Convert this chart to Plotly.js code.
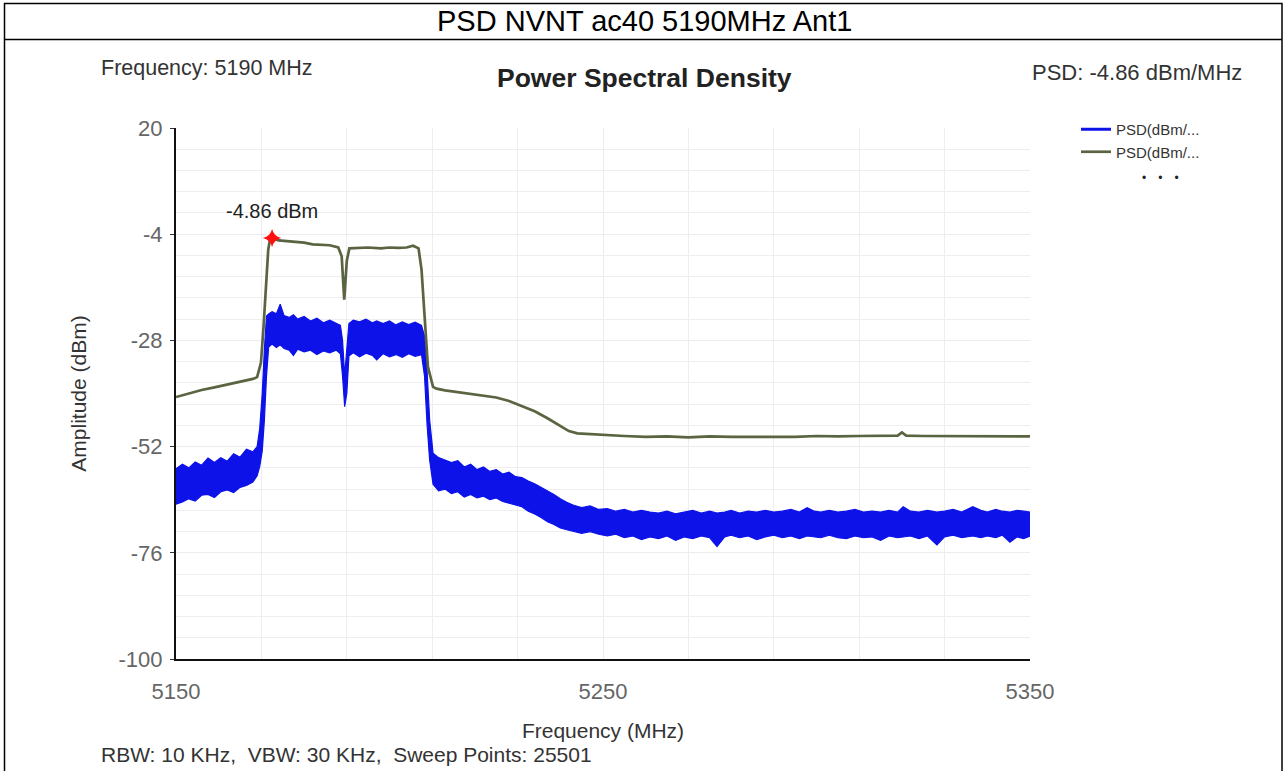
<!DOCTYPE html>
<html>
<head>
<meta charset="utf-8">
<script src="https://cdn.plot.ly/plotly-3.0.1.min.js"></script>
<style>
html,body{margin:0;padding:0;background:#fff;}
#chart{width:1285px;height:771px;}
</style>
</head>
<body>
<div id="chart"></div>
<script>
// ---------------- DATA ----------------
const chartTitle = 'PSD NVNT ac40 5190MHz Ant1';
const plotTitle = 'Power Spectral Density';
const infoFreq = 'Frequency: 5190 MHz';
const infoPsd = 'PSD: -4.86 dBm/MHz';
const infoSweep = 'RBW: 10 KHz,  VBW: 30 KHz,  Sweep Points: 25501';
const seriesNames = ['PSD(dBm/...', 'PSD(dBm/...'];
const xTickVals = [5150, 5250, 5350];
const yTickVals = [-100, -76, -52, -28, -4, 20];

const peakFreq = 5172.5;
const peakPsd = -4.86;
const peakLabel = '-4.86 dBm';

// Blue trace (noisy PSD) drawn as band between upper and lower envelope
const freqB = [5150.0,5151.5,5153.0,5154.5,5156.0,5157.5,5159.0,5160.5,5162.0,5163.5,5165.0,5166.5,5168.0,5169.0,5169.6,5170.2,5170.7,5171.2,5171.7,5172.5,5173.5,5174.4,5175.3,5176.5,5177.5,5178.5,5180.0,5181.5,5183.0,5184.5,5186.0,5187.5,5188.5,5189.0,5189.5,5190.0,5190.5,5191.5,5193.0,5194.5,5196.0,5197.0,5198.5,5200.0,5201.5,5203.0,5204.5,5206.0,5207.5,5208.2,5208.8,5209.4,5210.2,5211.5,5213.0,5214.5,5216.0,5217.5,5219.0,5220.5,5222.0,5223.5,5225.0,5226.5,5228.0,5229.5,5231.0,5232.5,5234.0,5235.5,5237.0,5238.5,5240.0,5241.5,5243.0,5245.0,5247.0,5249.0,5251.0,5253.0,5255.0,5257.0,5259.0,5261.0,5263.0,5265.0,5267.0,5269.0,5271.0,5273.0,5275.0,5276.7,5278.5,5280.0,5282.0,5284.0,5286.0,5288.0,5290.0,5292.0,5294.0,5296.0,5297.8,5299.5,5301.0,5303.0,5305.0,5307.0,5309.0,5311.0,5313.0,5315.0,5317.0,5319.0,5320.3,5322.0,5324.0,5326.0,5328.2,5330.0,5332.0,5334.0,5336.6,5338.5,5340.0,5342.0,5343.5,5345.3,5347.0,5348.5,5350.0];
const psdBHi = [-57.0,-56.0,-56.8,-55.5,-56.2,-54.6,-55.6,-54.5,-55.3,-53.6,-54.4,-52.6,-53.2,-52.0,-48.0,-40.0,-30.0,-22.5,-22.0,-21.5,-22.0,-19.8,-22.4,-22.8,-22.2,-23.2,-22.6,-23.6,-23.0,-24.0,-23.4,-24.2,-24.6,-28.0,-36.0,-30.0,-24.2,-23.4,-23.8,-23.2,-24.0,-23.6,-24.2,-23.6,-24.5,-23.8,-24.4,-23.9,-24.6,-27.0,-35.0,-46.0,-53.5,-54.5,-55.0,-55.6,-55.2,-56.6,-56.0,-57.2,-56.6,-57.6,-57.2,-58.2,-57.8,-58.8,-59.0,-59.8,-60.4,-61.2,-62.0,-62.8,-63.8,-64.6,-65.2,-65.8,-65.4,-66.2,-66.0,-66.6,-66.2,-66.8,-66.4,-66.8,-67.0,-66.6,-67.2,-66.8,-66.4,-67.0,-66.6,-67.0,-66.8,-66.4,-67.0,-66.6,-66.8,-66.4,-66.8,-66.6,-66.2,-66.8,-65.8,-66.6,-66.8,-66.4,-66.8,-66.6,-66.2,-66.8,-66.6,-66.8,-66.4,-66.8,-65.6,-66.6,-66.8,-66.4,-66.8,-66.6,-66.2,-66.8,-65.6,-66.4,-66.8,-66.2,-66.6,-66.8,-66.4,-66.6,-66.8];
const psdBLo = [-65.0,-64.5,-63.8,-64.3,-63.0,-62.8,-63.5,-62.2,-61.8,-62.4,-61.2,-60.8,-60.0,-58.6,-56.5,-53.0,-46.0,-36.0,-29.5,-28.8,-29.6,-29.0,-29.8,-30.2,-31.4,-30.0,-30.6,-30.2,-31.2,-30.4,-30.8,-30.2,-31.0,-36.0,-43.0,-40.0,-31.5,-30.8,-31.7,-30.9,-31.4,-32.4,-31.0,-31.7,-31.2,-31.8,-31.0,-31.6,-31.2,-36.0,-47.0,-55.0,-60.5,-62.0,-61.6,-62.6,-62.2,-63.4,-62.8,-63.6,-63.2,-64.0,-63.6,-64.4,-64.8,-65.2,-65.6,-66.6,-67.2,-68.0,-69.0,-69.6,-70.4,-70.8,-71.2,-71.6,-71.2,-71.8,-72.2,-71.8,-72.6,-72.2,-73.0,-72.4,-72.8,-72.2,-73.2,-72.4,-72.8,-72.2,-72.6,-74.6,-72.4,-72.0,-72.6,-72.2,-73.0,-72.4,-72.0,-72.6,-72.2,-72.8,-72.2,-72.4,-72.6,-72.0,-72.6,-72.8,-72.2,-72.6,-72.4,-73.2,-72.2,-72.6,-72.4,-72.2,-72.8,-72.2,-74.2,-72.4,-72.0,-72.6,-72.2,-72.6,-72.2,-72.6,-72.0,-73.6,-72.4,-72.8,-72.2];

// Olive trace (smoothed PSD)
const freqG = [5150.0,5153.0,5156.0,5159.0,5162.0,5165.0,5168.0,5169.0,5169.9,5170.5,5171.2,5171.6,5172.0,5172.5,5174.0,5176.0,5178.0,5180.0,5182.0,5184.0,5186.0,5188.0,5188.8,5189.4,5190.0,5190.6,5192.0,5195.0,5198.0,5200.0,5202.0,5204.0,5205.5,5206.8,5207.5,5208.3,5209.0,5210.2,5211.0,5213.0,5216.0,5219.0,5222.0,5225.0,5228.0,5231.0,5234.0,5237.0,5240.0,5242.0,5244.0,5247.0,5250.0,5255.0,5260.0,5265.0,5270.0,5275.0,5280.0,5285.0,5290.0,5295.0,5300.0,5305.0,5310.0,5315.0,5319.0,5320.0,5321.0,5325.0,5330.0,5335.0,5340.0,5345.0,5350.0];
const psdG = [-40.8,-40.0,-39.2,-38.6,-38.0,-37.3,-36.7,-36.3,-33.0,-25.0,-15.0,-7.5,-5.3,-4.86,-5.4,-5.6,-5.7,-5.9,-6.3,-6.4,-6.5,-7.0,-9.0,-18.8,-10.0,-7.2,-7.1,-7.0,-7.2,-7.0,-7.1,-7.0,-6.6,-7.2,-12.0,-25.0,-34.0,-38.5,-38.9,-39.3,-39.7,-40.1,-40.4,-40.9,-41.7,-42.8,-44.0,-45.6,-47.3,-48.5,-49.0,-49.2,-49.3,-49.6,-49.8,-49.7,-49.9,-49.7,-49.8,-49.8,-49.7,-49.8,-49.6,-49.7,-49.6,-49.6,-49.5,-48.8,-49.5,-49.6,-49.6,-49.6,-49.6,-49.6,-49.7];

// ---------------- LAYOUT HELPERS ----------------
const W = 1285, Hh = 771;
const L = 176, R = 1030, T = 128, B = 659;
const PW = R - L, PH = B - T;
const px = v => (v - L) / PW;
const py = v => (B - v) / PH;
const FONT = 'Liberation Sans, Arial, sans-serif';
const BLUE = 'rgb(12,18,232)';
const OLIVE = '#5a6440';

const traces = [
  {x:[null], y:[null], type:'scatter', mode:'lines', name:seriesNames[0],
   line:{color:BLUE, width:3}, hoverinfo:'skip'},
  {x:freqB, y:psdBLo, type:'scatter', mode:'lines', showlegend:false,
   line:{color:BLUE, width:1.2}, hoverinfo:'skip'},
  {x:freqB, y:psdBHi, type:'scatter', mode:'lines', showlegend:false, fill:'tonexty',
   fillcolor:BLUE, line:{color:BLUE, width:1.2}, hoverinfo:'skip'},
  {x:freqG, y:psdG, type:'scatter', mode:'lines', name:seriesNames[1],
   line:{color:OLIVE, width:2.7}},
  {x:[peakFreq], y:[peakPsd], type:'scatter', mode:'markers', showlegend:false,
   marker:{symbol:'star-diamond', color:'#ff1010', size:13}}
];

const layout = {
  width: W, height: Hh,
  margin: {l:L, r:W-R, t:T, b:Hh-B, pad:0},
  paper_bgcolor:'#ffffff', plot_bgcolor:'#ffffff',
  font:{family:FONT, color:'#333'},
  showlegend:true,
  legend:{x:px(1076), y:py(113), xanchor:'left', yanchor:'top', traceorder:'normal',
          font:{size:15, color:'#333', family:FONT}, itemwidth:30,
          bgcolor:'rgba(0,0,0,0)', tracegroupgap:0},
  xaxis:{
    range:[5150,5350], tickmode:'array', tickvals:xTickVals,
    ticktext:xTickVals.map(String),
    tickfont:{size:22, color:'#666', family:FONT},
    ticks:'outside', ticklen:12, tickcolor:'rgba(0,0,0,0)',
    showline:true, linecolor:'#111', linewidth:2, mirror:false,
    showgrid:true, gridcolor:'#ececec', gridwidth:1, zeroline:false,
    minor:{dtick:20, tick0:5150, showgrid:true, gridcolor:'#eeeeee', gridwidth:1},
    title:{text:'Frequency (MHz)', font:{size:21, color:'#333', family:FONT}, standoff:20}
  },
  yaxis:{
    range:[-100,20], tickmode:'array', tickvals:yTickVals,
    ticktext:yTickVals.map(String),
    tickfont:{size:22, color:'#666', family:FONT},
    ticks:'outside', ticklen:4, tickcolor:'#333',
    ticklabelstandoff:3,
    showline:true, linecolor:'#111', linewidth:2,
    showgrid:true, gridcolor:'#ececec', gridwidth:1, zeroline:false,
    minor:{dtick:4.8, tick0:-100, showgrid:true, gridcolor:'#eeeeee', gridwidth:1},
    title:{text:'Amplitude (dBm)', font:{size:21, color:'#333', family:FONT}, standoff:26}
  },
  shapes:[
    {type:'rect', xref:'paper', yref:'paper', x0:px(4.5), x1:px(1282), y0:py(776), y1:py(3.5),
     line:{color:'#000', width:1.5}, fillcolor:'rgba(0,0,0,0)', layer:'above'},
    {type:'line', xref:'paper', yref:'paper', x0:px(4.5), x1:px(1282), y0:py(39.5), y1:py(39.5),
     line:{color:'#000', width:1.5}}
  ],
  annotations:[
    {text:chartTitle, xref:'paper', yref:'paper', x:px(644), y:py(21), xanchor:'center', yanchor:'middle',
     showarrow:false, font:{size:29, color:'#000', family:FONT}},
    {text:infoFreq, xref:'paper', yref:'paper', x:px(99), y:py(68), xanchor:'left', yanchor:'middle',
     showarrow:false, font:{size:21.5, color:'#333', family:FONT}},
    {text:'<b>'+plotTitle+'</b>', xref:'paper', yref:'paper', x:px(644), y:py(78), xanchor:'center', yanchor:'middle',
     showarrow:false, font:{size:26.5, color:'#222', family:FONT}},
    {text:infoPsd, xref:'paper', yref:'paper', x:px(1244), y:py(72), xanchor:'right', yanchor:'middle',
     showarrow:false, font:{size:22, color:'#333', family:FONT}},
    {text:infoSweep, xref:'paper', yref:'paper', x:px(99), y:py(768), xanchor:'left', yanchor:'bottom',
     showarrow:false, font:{size:21, color:'#333', family:FONT}},
    {text:'\u2022\u2003\u2022\u2003\u2022', xref:'paper', yref:'paper', x:px(1160), y:py(178), xanchor:'center', yanchor:'middle',
     showarrow:false, font:{size:12, color:'#222', family:FONT}},
    {text:peakLabel, xref:'x', yref:'y', x:peakFreq, y:peakPsd, xanchor:'center', yanchor:'bottom',
     yshift:14, showarrow:false, font:{size:20, color:'#222', family:FONT}}
  ]
};

Plotly.newPlot('chart', traces, layout, {displayModeBar:false, staticPlot:true});
</script>
</body>
</html>
